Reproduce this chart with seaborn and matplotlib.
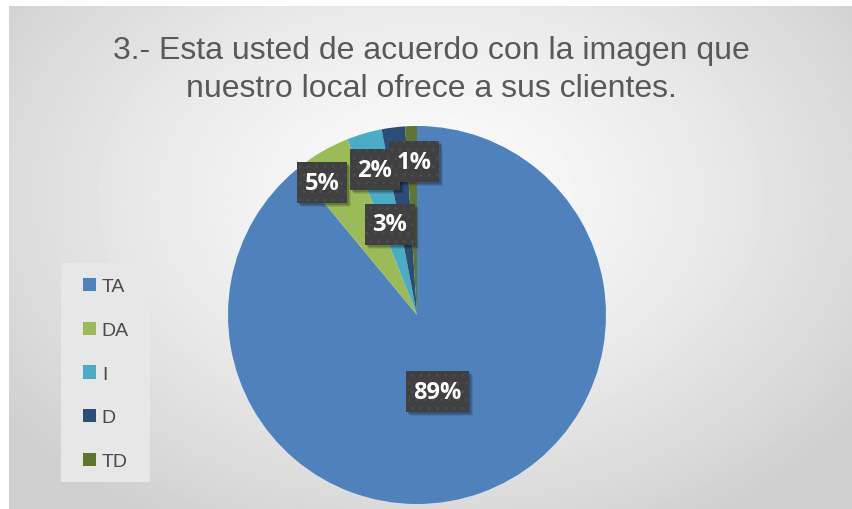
import numpy as np
import matplotlib
matplotlib.use("Agg")
import matplotlib.pyplot as plt
from matplotlib.patches import Rectangle
import seaborn as sns

# data
categories = ["TA", "DA", "I", "D", "TD"]
values = [89, 5, 3, 2, 1]
pct_labels = ["89%", "5%", "3%", "2%", "1%"]
title = "3.- Esta usted de acuerdo con la imagen que\nnuestro local ofrece a sus clientes."

# style
colors = ["#4F81BD", "#9BBB59", "#4BACC6", "#2C4D75", "#5F7530"]
label_r = [0.42, 0.86, 0.50, 0.80, 0.81]
label_nudge = [-5, 5, 0.5, 9, -0.7]

sns.set_style("white")
plt.rcParams["font.family"] = ["Liberation Sans", "DejaVu Sans"]
plt.rcParams["hatch.linewidth"] = 1.0

W, H = 852, 510
fig = plt.figure(figsize=(W / 100, H / 100), dpi=100)
fig.patch.set_facecolor("white")

# background with radial gradient
bg = fig.add_axes([9 / W, 0, (W - 9) / W, (H - 7) / H])
yy, xx = np.mgrid[0:1:300j, 0:1:500j]
d = np.sqrt(((xx - 0.5) / 0.62) ** 2 + ((yy - 0.38) / 0.75) ** 2)
shade = 0.985 - 0.17 * np.clip(d, 0, 1) ** 1.4
bg.imshow(shade, cmap="gray", vmin=0, vmax=1, aspect="auto",
          extent=[0, 1, 1, 0])
bg.set_axis_off()

# legend panel
bg.add_patch(Rectangle((61 / W, 1 - 483 / H), 89 / W, 219 / H,
                       transform=fig.transFigure, facecolor="#e7e7e7",
                       edgecolor="none", zorder=3, clip_on=False))

cx, cy, r = 417, 316, 189
ax = fig.add_axes([(cx - r) / W, (H - cy - r) / H, 2 * r / W, 2 * r / H])
wedges, _ = ax.pie(values, colors=colors, startangle=90, counterclock=False,
                   wedgeprops=dict(linewidth=0))
ax.set_xlim(-1, 1)
ax.set_ylim(-1, 1)
ax.set_aspect("equal")
ax.set_axis_off()

texts = []
for w, txt, rr, nd in zip(wedges, pct_labels, label_r, label_nudge):
    ang = np.deg2rad((w.theta1 + w.theta2) / 2 + nd)
    t = ax.text(rr * np.cos(ang), rr * np.sin(ang), txt, ha="center",
                va="center", color="white", fontsize=17, fontweight="bold",
                family=["Open Sans", "DejaVu Sans"], zorder=10)
    texts.append(t)

fig.text(431 / W, 1 - 70 / H, title, ha="center", va="center", fontsize=23,
         color="#595959", linespacing=1.38)

handles = [plt.Rectangle((0, 0), 1, 1, facecolor=c, edgecolor="none")
           for c in colors]
leg = fig.legend(handles, categories, loc="upper left",
                 bbox_to_anchor=(83 / W, 1 - 279 / H),
                 frameon=False, fontsize=14, labelcolor="#4a4a4a",
                 handlelength=0.67, handleheight=0.67, handletextpad=0.3,
                 labelspacing=1.35, borderpad=0, borderaxespad=0)
leg.set_zorder(5)

# label boxes drawn around the measured text extents
fig.canvas.draw()
renderer = fig.canvas.get_renderer()
for t in texts:
    bb = t.get_window_extent(renderer)
    mx, my = (bb.x0 + bb.x1) / 2, (bb.y0 + bb.y1) / 2
    bw, bh = bb.width + 15, 41
    x0, y0 = mx - bw / 2, my - bh / 2
    for k, a in [(4, 0.08), (3, 0.12), (2, 0.18)]:
        ax.add_patch(Rectangle(((x0 + k) / W, (y0 - k) / H), bw / W, bh / H,
                               transform=fig.transFigure, facecolor="black",
                               edgecolor="none", alpha=a, zorder=7,
                               clip_on=False))
    ax.add_patch(Rectangle((x0 / W, y0 / H), bw / W, bh / H,
                           transform=fig.transFigure, facecolor="#404040",
                           edgecolor="#4c4c4c", linewidth=0, hatch="..",
                           zorder=8, clip_on=False))

fig.savefig("out.png", dpi=100)
